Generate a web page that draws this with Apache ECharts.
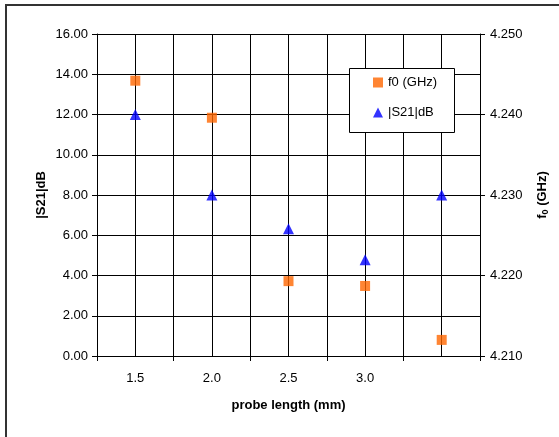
<!DOCTYPE html>
<html>
<head>
<meta charset="utf-8">
<script src="https://cdn.jsdelivr.net/npm/echarts@6/dist/echarts.min.js"></script>
<style>html,body{margin:0;padding:0;background:#fff}#c{width:559px;height:437px}</style>
</head>
<body>
<div id="c"></div>
<script>
const categories = ['1.5', '2.0', '2.5', '3.0', ''];
const f0GHz = [4.2442, 4.2396, 4.2193, 4.2187, 4.2120];
const s21dB = [12.0, 8.0, 6.32, 4.78, 8.0];
const halfCats = ['a','b','c','d','e','f','g','h','i','j'];

const FONT = 'Liberation Sans';
const FS = 13;
const chart = echarts.init(document.getElementById('c'), null, {renderer: 'canvas'});
chart.setOption({
  animation: false,
  backgroundColor: '#fff',
  textStyle: {fontFamily: FONT, color: '#000'},
  graphic: [
    {type: 'rect', z: 0, shape: {x: 6, y: 5, width: 700, height: 600},
     style: {fill: 'none', stroke: '#333', lineWidth: 2}},
    {type: 'rect', z: 100, shape: {x: 349.5, y: 68.5, width: 105, height: 64},
     style: {fill: '#fff', stroke: '#000', lineWidth: 1}}
  ],
  legend: {
    z: 110,
    orient: 'vertical', left: 373, top: 76, padding: 0,
    itemWidth: 10, itemHeight: 10, itemGap: 17,
    textStyle: {fontFamily: FONT, fontSize: FS, color: '#000'},
    data: [{name: 'f0 (GHz)', icon: 'rect'}, {name: '|S21|dB', icon: 'triangle'}]
  },
  grid: {left: 97, top: 34, width: 383, height: 322},
  xAxis: [{
    type: 'category', data: categories, position: 'bottom',
    axisLine: {lineStyle: {color: '#000', width: 1}},
    axisTick: {show: true, length: 5, lineStyle: {color: '#000'}},
    axisLabel: {margin: 16, fontSize: FS, color: '#000', fontFamily: FONT},
    splitLine: {show: false},
    name: 'probe length (mm)', nameLocation: 'middle', nameGap: 43,
    nameTextStyle: {fontSize: FS, fontWeight: 'bold', color: '#000', fontFamily: FONT}
  }, {
    type: 'category', data: halfCats, position: 'top',
    axisLine: {show: false}, axisTick: {show: false}, axisLabel: {show: false},
    splitLine: {show: true, lineStyle: {color: '#000', width: 1}}
  }],
  yAxis: [{
    type: 'value', min: 0, max: 16, interval: 2, position: 'left',
    axisLine: {show: true, lineStyle: {color: '#000'}},
    axisTick: {show: true, length: 5, lineStyle: {color: '#000'}},
    axisLabel: {margin: 9, fontSize: FS, color: '#000', fontFamily: FONT,
      formatter: v => v.toFixed(2)},
    splitLine: {show: true, lineStyle: {color: '#000', width: 1}},
    name: '|S21|dB', nameLocation: 'middle', nameGap: 49, nameRotate: 90,
    nameMoveOverlap: false,
    nameTextStyle: {fontSize: FS, fontWeight: 'bold', color: '#000', fontFamily: FONT}
  }, {
    type: 'value', min: 4.21, max: 4.25, interval: 0.01, position: 'right',
    axisLine: {show: true, lineStyle: {color: '#000'}},
    axisTick: {show: true, length: 5, lineStyle: {color: '#000'}},
    axisLabel: {margin: 10, fontSize: FS, color: '#000', fontFamily: FONT,
      formatter: v => v.toFixed(3)},
    splitLine: {show: false},
    name: '{a|f}{b|0}{a| (GHz)}', nameLocation: 'middle', nameGap: 55, nameRotate: 90,
    nameMoveOverlap: false,
    nameTextStyle: {fontSize: FS, fontWeight: 'bold', color: '#000', fontFamily: FONT,
      rich: {
        a: {fontSize: FS, fontWeight: 'bold', fontFamily: FONT, color: '#000'},
        b: {fontSize: 9, fontWeight: 'bold', fontFamily: FONT, color: '#000', padding: [6, 0, 0, 0]}
      }}
  }],
  series: [{
    name: 'f0 (GHz)', type: 'scatter', xAxisIndex: 0, yAxisIndex: 1,
    data: f0GHz, symbol: 'rect', symbolSize: 10,
    itemStyle: {color: '#FF6600'}, z: 3
  }, {
    name: '|S21|dB', type: 'scatter', xAxisIndex: 0, yAxisIndex: 0,
    data: s21dB, symbol: 'triangle', symbolSize: [11, 11],
    itemStyle: {color: '#0000FF'}, z: 3
  }]
});
</script>
</body>
</html>
